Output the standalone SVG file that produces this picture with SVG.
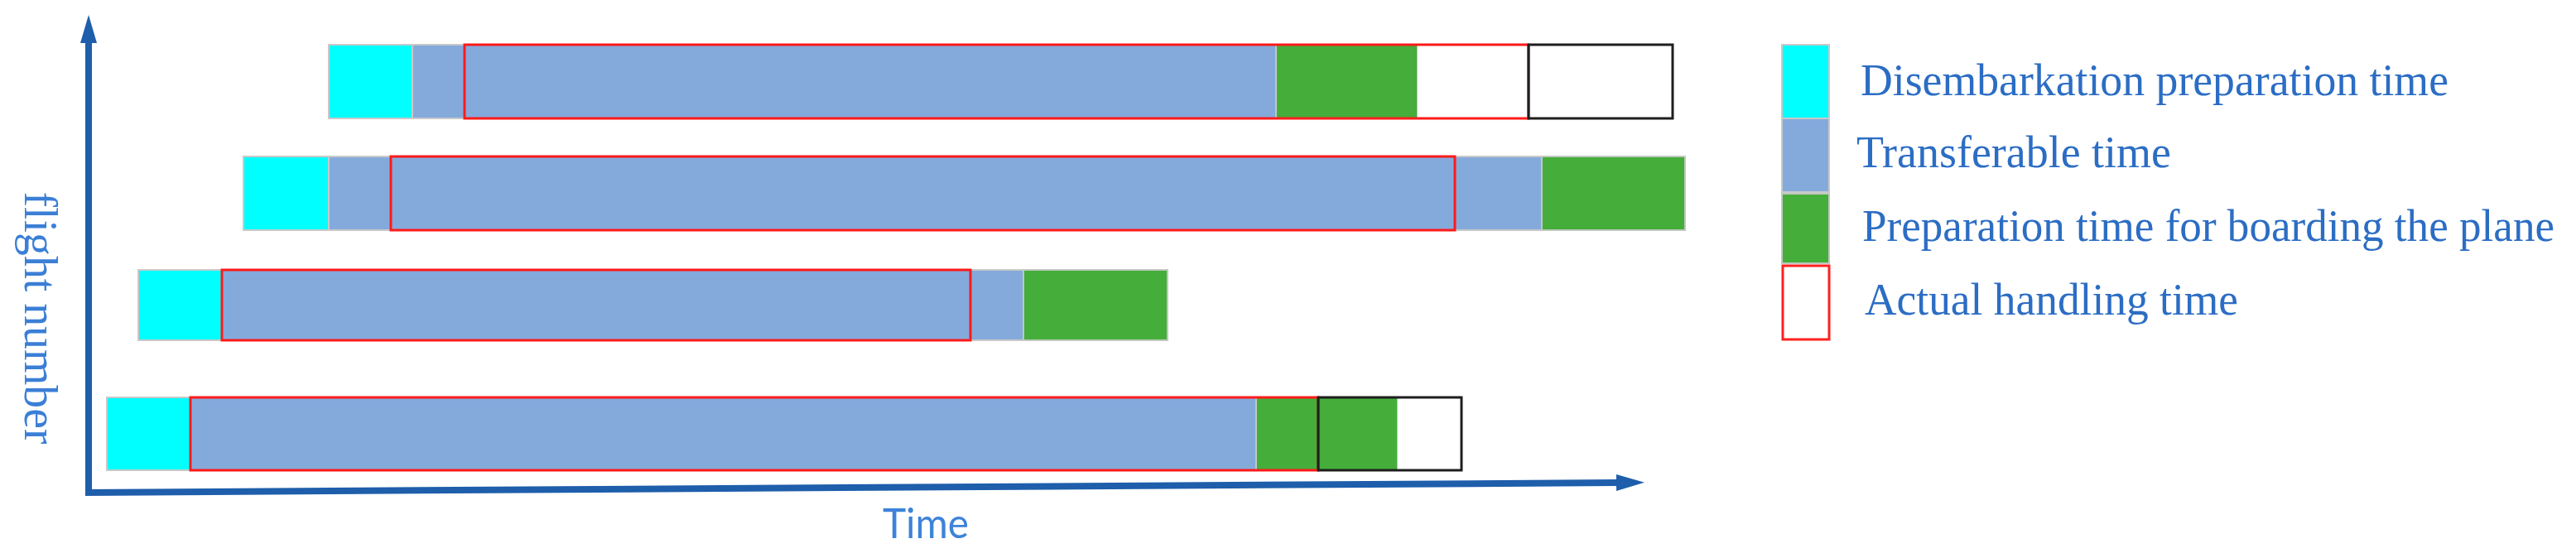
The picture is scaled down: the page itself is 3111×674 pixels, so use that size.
<svg xmlns="http://www.w3.org/2000/svg" width="3111" height="674" viewBox="0 0 3111 674">
<style>
.cy{fill:#00FFFF;stroke:#C9C9C9;stroke-width:2}
.bl{fill:#84AADC;stroke:#C9C9C9;stroke-width:2}
.gr{fill:#45AD3A;stroke:#BFC9BE;stroke-width:2}
.wh{fill:#FFFFFF;stroke:none}
.rb{fill:none;stroke:#FF1A1A;stroke-width:3}
.kb{fill:none;stroke:#1E1E1E;stroke-width:3}
.ax{stroke:#1E5EAB;stroke-width:8;fill:none}
.lg{font-family:"Liberation Serif","Times New Roman",serif;font-size:54px;fill:#2C6DC4}
.fn{font-family:"Liberation Serif","Times New Roman",serif;font-size:56px;fill:#3B7FD6}
.tm{font-family:Lato,"Open Sans",sans-serif;font-size:50px;fill:#3D83D9}
</style>
<defs>
<marker id="arr" viewBox="0 0 34 20" refX="2" refY="10" markerWidth="34" markerHeight="20" markerUnits="userSpaceOnUse" orient="auto">
<path d="M0,0 L34,10 L0,20 z" fill="#1E5EAB"/>
</marker>
</defs>
<rect width="3111" height="674" fill="#FFFFFF"/>

<g id="connectors">
<line class="ax" x1="107" y1="598" x2="107" y2="50" marker-end="url(#arr)"/>
<line class="ax" x1="103" y1="595" x2="1954" y2="583" marker-end="url(#arr)"/>
</g>

<g id="flight1">
<rect class="cy" x="397" y="54" width="101" height="89"/>
<rect class="bl" x="498" y="54" width="63" height="89"/>
<rect class="bl" x="561" y="54" width="980" height="89"/>
<rect class="gr" x="1541" y="54" width="171" height="89"/>
<rect class="wh" x="1712" y="54" width="134" height="89"/>
<rect class="rb" x="561" y="54" width="1285" height="89"/>
<rect class="kb" x="1846" y="54" width="174" height="89"/>
</g>

<g id="flight2">
<rect class="cy" x="294" y="189" width="103" height="89"/>
<rect class="bl" x="397" y="189" width="75" height="89"/>
<rect class="bl" x="472" y="189" width="1390" height="89"/>
<rect class="gr" x="1862" y="189" width="173" height="89"/>
<rect class="rb" x="472" y="189" width="1285" height="89"/>
</g>

<g id="flight3">
<rect class="cy" x="167" y="326" width="101" height="85"/>
<rect class="bl" x="268" y="326" width="968" height="85"/>
<rect class="gr" x="1236" y="326" width="174" height="85"/>
<rect class="rb" x="268" y="326" width="904" height="85"/>
</g>

<g id="flight4">
<rect class="cy" x="129" y="480" width="101" height="88"/>
<rect class="bl" x="230" y="480" width="1287" height="88"/>
<rect class="gr" x="1517" y="480" width="171" height="88"/>
<rect class="wh" x="1688" y="480" width="77" height="88"/>
<rect class="rb" x="230" y="480" width="1362" height="88"/>
<rect class="kb" x="1592" y="480" width="173" height="88"/>
</g>

<g id="axis-labels">
<text class="fn" transform="translate(30,384) rotate(90)" text-anchor="middle" textLength="305" lengthAdjust="spacingAndGlyphs">flight number</text>
<text class="tm" x="1066" y="650" textLength="104" lengthAdjust="spacingAndGlyphs">Time</text>
</g>

<g id="legend">
<rect class="cy" x="2152" y="54" width="57" height="89"/>
<rect class="bl" x="2152" y="143" width="57" height="89"/>
<rect class="gr" x="2152" y="234" width="57" height="84"/>
<rect fill="#FFFFFF" stroke="#FF2020" stroke-width="3" x="2153" y="321" width="56" height="89"/>
<text class="lg" x="2247" y="115" textLength="710" lengthAdjust="spacingAndGlyphs">Disembarkation preparation time</text>
<text class="lg" x="2242" y="202" textLength="380" lengthAdjust="spacingAndGlyphs">Transferable time</text>
<text class="lg" x="2249" y="291" textLength="836" lengthAdjust="spacingAndGlyphs">Preparation time for boarding the plane</text>
<text class="lg" x="2252" y="380" textLength="451" lengthAdjust="spacingAndGlyphs">Actual handling time</text>
</g>
</svg>
